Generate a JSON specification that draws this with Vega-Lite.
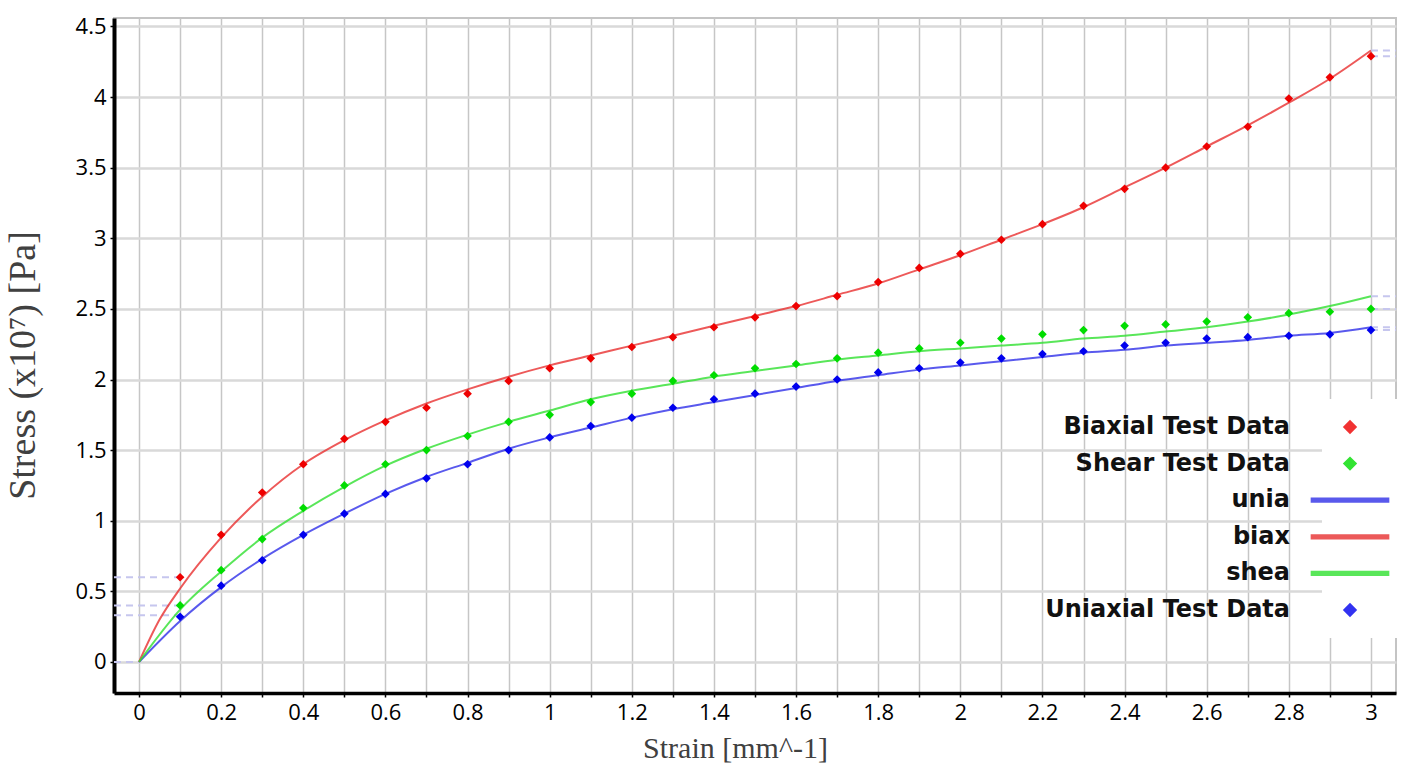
{
  "$schema": "https://vega.github.io/schema/vega-lite/v6.json",
  "width": 1282,
  "height": 675,
  "autosize": "none",
  "padding": {"left": 114, "top": 18, "right": 17, "bottom": 77},
  "background": "white",
  "config": {
    "view": {"stroke": "#c4c4c4", "strokeWidth": 2},
    "axis": {
      "domainColor": "black",
      "tickColor": "black",
      "tickSize": 4,
      "tickWidth": 1.5,
      "labelFont": "Open Sans",
      "labelFontSize": 22,
      "labelColor": "black",
      "titleFont": "Liberation Serif",
      "titleFontWeight": "normal",
      "titleColor": "#404040"
    },
    "legend": {
      "title": null,
      "orient": "none",
      "legendX": 1208,
      "legendY": 381,
      "labelAlign": "right",
      "labelOffset": -72,
      "labelFont": "DejaVu Sans",
      "labelFontSize": 24,
      "labelFontWeight": "bold",
      "labelColor": "#111111",
      "labelLimit": 400,
      "fillColor": "white",
      "padding": 16,
      "rowPadding": 12.6,
      "symbolSize": 150,
      "symbolStrokeWidth": 1.5
    }
  },
  "datasets": {
    "fits": [
      {"series": "unia", "x": 0, "y": 0}, {"series": "unia", "x": 0.1, "y": 0.29}, {"series": "unia", "x": 0.2, "y": 0.53}, {"series": "unia", "x": 0.3, "y": 0.73}, {"series": "unia", "x": 0.4, "y": 0.9}, {"series": "unia", "x": 0.5, "y": 1.05}, {"series": "unia", "x": 0.6, "y": 1.19}, {"series": "unia", "x": 0.7, "y": 1.31}, {"series": "unia", "x": 0.8, "y": 1.41}, {"series": "unia", "x": 0.9, "y": 1.51}, {"series": "unia", "x": 1.0, "y": 1.59}, {"series": "unia", "x": 1.1, "y": 1.66}, {"series": "unia", "x": 1.2, "y": 1.73}, {"series": "unia", "x": 1.3, "y": 1.79}, {"series": "unia", "x": 1.4, "y": 1.84}, {"series": "unia", "x": 1.5, "y": 1.89}, {"series": "unia", "x": 1.6, "y": 1.94}, {"series": "unia", "x": 1.7, "y": 1.99}, {"series": "unia", "x": 1.8, "y": 2.03}, {"series": "unia", "x": 1.9, "y": 2.07}, {"series": "unia", "x": 2.0, "y": 2.1}, {"series": "unia", "x": 2.1, "y": 2.13}, {"series": "unia", "x": 2.2, "y": 2.16}, {"series": "unia", "x": 2.3, "y": 2.19}, {"series": "unia", "x": 2.4, "y": 2.21}, {"series": "unia", "x": 2.5, "y": 2.24}, {"series": "unia", "x": 2.6, "y": 2.26}, {"series": "unia", "x": 2.7, "y": 2.28}, {"series": "unia", "x": 2.8, "y": 2.31}, {"series": "unia", "x": 2.9, "y": 2.33}, {"series": "unia", "x": 3.0, "y": 2.37},
      {"series": "biax", "x": 0, "y": 0}, {"series": "biax", "x": 0.05, "y": 0.3}, {"series": "biax", "x": 0.1, "y": 0.52}, {"series": "biax", "x": 0.2, "y": 0.88}, {"series": "biax", "x": 0.3, "y": 1.17}, {"series": "biax", "x": 0.4, "y": 1.4}, {"series": "biax", "x": 0.5, "y": 1.57}, {"series": "biax", "x": 0.6, "y": 1.71}, {"series": "biax", "x": 0.7, "y": 1.83}, {"series": "biax", "x": 0.8, "y": 1.93}, {"series": "biax", "x": 0.9, "y": 2.02}, {"series": "biax", "x": 1.0, "y": 2.1}, {"series": "biax", "x": 1.1, "y": 2.17}, {"series": "biax", "x": 1.2, "y": 2.24}, {"series": "biax", "x": 1.3, "y": 2.31}, {"series": "biax", "x": 1.4, "y": 2.38}, {"series": "biax", "x": 1.5, "y": 2.45}, {"series": "biax", "x": 1.6, "y": 2.52}, {"series": "biax", "x": 1.7, "y": 2.6}, {"series": "biax", "x": 1.8, "y": 2.68}, {"series": "biax", "x": 1.9, "y": 2.78}, {"series": "biax", "x": 2.0, "y": 2.88}, {"series": "biax", "x": 2.1, "y": 2.99}, {"series": "biax", "x": 2.2, "y": 3.1}, {"series": "biax", "x": 2.3, "y": 3.22}, {"series": "biax", "x": 2.4, "y": 3.36}, {"series": "biax", "x": 2.5, "y": 3.5}, {"series": "biax", "x": 2.6, "y": 3.65}, {"series": "biax", "x": 2.7, "y": 3.8}, {"series": "biax", "x": 2.8, "y": 3.96}, {"series": "biax", "x": 2.9, "y": 4.13}, {"series": "biax", "x": 3.0, "y": 4.33},
      {"series": "shea", "x": 0, "y": 0}, {"series": "shea", "x": 0.1, "y": 0.37}, {"series": "shea", "x": 0.2, "y": 0.64}, {"series": "shea", "x": 0.3, "y": 0.88}, {"series": "shea", "x": 0.4, "y": 1.07}, {"series": "shea", "x": 0.5, "y": 1.24}, {"series": "shea", "x": 0.6, "y": 1.39}, {"series": "shea", "x": 0.7, "y": 1.51}, {"series": "shea", "x": 0.8, "y": 1.61}, {"series": "shea", "x": 0.9, "y": 1.7}, {"series": "shea", "x": 1.0, "y": 1.78}, {"series": "shea", "x": 1.1, "y": 1.86}, {"series": "shea", "x": 1.2, "y": 1.92}, {"series": "shea", "x": 1.3, "y": 1.97}, {"series": "shea", "x": 1.4, "y": 2.02}, {"series": "shea", "x": 1.5, "y": 2.06}, {"series": "shea", "x": 1.6, "y": 2.1}, {"series": "shea", "x": 1.7, "y": 2.14}, {"series": "shea", "x": 1.8, "y": 2.17}, {"series": "shea", "x": 1.9, "y": 2.2}, {"series": "shea", "x": 2.0, "y": 2.22}, {"series": "shea", "x": 2.1, "y": 2.24}, {"series": "shea", "x": 2.2, "y": 2.26}, {"series": "shea", "x": 2.3, "y": 2.29}, {"series": "shea", "x": 2.4, "y": 2.31}, {"series": "shea", "x": 2.5, "y": 2.34}, {"series": "shea", "x": 2.6, "y": 2.37}, {"series": "shea", "x": 2.7, "y": 2.41}, {"series": "shea", "x": 2.8, "y": 2.46}, {"series": "shea", "x": 2.9, "y": 2.52}, {"series": "shea", "x": 3.0, "y": 2.59}
    ],
    "tests": [
      {"series": "Biaxial Test Data", "x": 0.1, "y": 0.6}, {"series": "Biaxial Test Data", "x": 0.2, "y": 0.9}, {"series": "Biaxial Test Data", "x": 0.3, "y": 1.2}, {"series": "Biaxial Test Data", "x": 0.4, "y": 1.4}, {"series": "Biaxial Test Data", "x": 0.5, "y": 1.58}, {"series": "Biaxial Test Data", "x": 0.6, "y": 1.7}, {"series": "Biaxial Test Data", "x": 0.7, "y": 1.8}, {"series": "Biaxial Test Data", "x": 0.8, "y": 1.9}, {"series": "Biaxial Test Data", "x": 0.9, "y": 1.99}, {"series": "Biaxial Test Data", "x": 1.0, "y": 2.08}, {"series": "Biaxial Test Data", "x": 1.1, "y": 2.15}, {"series": "Biaxial Test Data", "x": 1.2, "y": 2.23}, {"series": "Biaxial Test Data", "x": 1.3, "y": 2.3}, {"series": "Biaxial Test Data", "x": 1.4, "y": 2.37}, {"series": "Biaxial Test Data", "x": 1.5, "y": 2.44}, {"series": "Biaxial Test Data", "x": 1.6, "y": 2.52}, {"series": "Biaxial Test Data", "x": 1.7, "y": 2.59}, {"series": "Biaxial Test Data", "x": 1.8, "y": 2.69}, {"series": "Biaxial Test Data", "x": 1.9, "y": 2.79}, {"series": "Biaxial Test Data", "x": 2.0, "y": 2.89}, {"series": "Biaxial Test Data", "x": 2.1, "y": 2.99}, {"series": "Biaxial Test Data", "x": 2.2, "y": 3.1}, {"series": "Biaxial Test Data", "x": 2.3, "y": 3.23}, {"series": "Biaxial Test Data", "x": 2.4, "y": 3.35}, {"series": "Biaxial Test Data", "x": 2.5, "y": 3.5}, {"series": "Biaxial Test Data", "x": 2.6, "y": 3.65}, {"series": "Biaxial Test Data", "x": 2.7, "y": 3.79}, {"series": "Biaxial Test Data", "x": 2.8, "y": 3.99}, {"series": "Biaxial Test Data", "x": 2.9, "y": 4.14}, {"series": "Biaxial Test Data", "x": 3.0, "y": 4.29},
      {"series": "Shear Test Data", "x": 0.1, "y": 0.4}, {"series": "Shear Test Data", "x": 0.2, "y": 0.65}, {"series": "Shear Test Data", "x": 0.3, "y": 0.87}, {"series": "Shear Test Data", "x": 0.4, "y": 1.09}, {"series": "Shear Test Data", "x": 0.5, "y": 1.25}, {"series": "Shear Test Data", "x": 0.6, "y": 1.4}, {"series": "Shear Test Data", "x": 0.7, "y": 1.5}, {"series": "Shear Test Data", "x": 0.8, "y": 1.6}, {"series": "Shear Test Data", "x": 0.9, "y": 1.7}, {"series": "Shear Test Data", "x": 1.0, "y": 1.75}, {"series": "Shear Test Data", "x": 1.1, "y": 1.84}, {"series": "Shear Test Data", "x": 1.2, "y": 1.9}, {"series": "Shear Test Data", "x": 1.3, "y": 1.99}, {"series": "Shear Test Data", "x": 1.4, "y": 2.03}, {"series": "Shear Test Data", "x": 1.5, "y": 2.08}, {"series": "Shear Test Data", "x": 1.6, "y": 2.11}, {"series": "Shear Test Data", "x": 1.7, "y": 2.15}, {"series": "Shear Test Data", "x": 1.8, "y": 2.19}, {"series": "Shear Test Data", "x": 1.9, "y": 2.22}, {"series": "Shear Test Data", "x": 2.0, "y": 2.26}, {"series": "Shear Test Data", "x": 2.1, "y": 2.29}, {"series": "Shear Test Data", "x": 2.2, "y": 2.32}, {"series": "Shear Test Data", "x": 2.3, "y": 2.35}, {"series": "Shear Test Data", "x": 2.4, "y": 2.38}, {"series": "Shear Test Data", "x": 2.5, "y": 2.39}, {"series": "Shear Test Data", "x": 2.6, "y": 2.41}, {"series": "Shear Test Data", "x": 2.7, "y": 2.44}, {"series": "Shear Test Data", "x": 2.8, "y": 2.47}, {"series": "Shear Test Data", "x": 2.9, "y": 2.48}, {"series": "Shear Test Data", "x": 3.0, "y": 2.5},
      {"series": "Uniaxial Test Data", "x": 0.1, "y": 0.32}, {"series": "Uniaxial Test Data", "x": 0.2, "y": 0.54}, {"series": "Uniaxial Test Data", "x": 0.3, "y": 0.72}, {"series": "Uniaxial Test Data", "x": 0.4, "y": 0.9}, {"series": "Uniaxial Test Data", "x": 0.5, "y": 1.05}, {"series": "Uniaxial Test Data", "x": 0.6, "y": 1.19}, {"series": "Uniaxial Test Data", "x": 0.7, "y": 1.3}, {"series": "Uniaxial Test Data", "x": 0.8, "y": 1.4}, {"series": "Uniaxial Test Data", "x": 0.9, "y": 1.5}, {"series": "Uniaxial Test Data", "x": 1.0, "y": 1.59}, {"series": "Uniaxial Test Data", "x": 1.1, "y": 1.67}, {"series": "Uniaxial Test Data", "x": 1.2, "y": 1.73}, {"series": "Uniaxial Test Data", "x": 1.3, "y": 1.8}, {"series": "Uniaxial Test Data", "x": 1.4, "y": 1.86}, {"series": "Uniaxial Test Data", "x": 1.5, "y": 1.9}, {"series": "Uniaxial Test Data", "x": 1.6, "y": 1.95}, {"series": "Uniaxial Test Data", "x": 1.7, "y": 2.0}, {"series": "Uniaxial Test Data", "x": 1.8, "y": 2.05}, {"series": "Uniaxial Test Data", "x": 1.9, "y": 2.08}, {"series": "Uniaxial Test Data", "x": 2.0, "y": 2.12}, {"series": "Uniaxial Test Data", "x": 2.1, "y": 2.15}, {"series": "Uniaxial Test Data", "x": 2.2, "y": 2.18}, {"series": "Uniaxial Test Data", "x": 2.3, "y": 2.2}, {"series": "Uniaxial Test Data", "x": 2.4, "y": 2.24}, {"series": "Uniaxial Test Data", "x": 2.5, "y": 2.26}, {"series": "Uniaxial Test Data", "x": 2.6, "y": 2.29}, {"series": "Uniaxial Test Data", "x": 2.7, "y": 2.3}, {"series": "Uniaxial Test Data", "x": 2.8, "y": 2.31}, {"series": "Uniaxial Test Data", "x": 2.9, "y": 2.32}, {"series": "Uniaxial Test Data", "x": 3.0, "y": 2.35}
    ],
    "guides": [
      {"x": -0.061, "x2": 0.1, "y": 0.6}, {"x": -0.061, "x2": 0.1, "y": 0.4}, {"x": -0.061, "x2": 0.1, "y": 0.33}, {"x": -0.061, "x2": 0, "y": 0},
      {"x": 3.0, "x2": 3.061, "y": 4.33}, {"x": 3.0, "x2": 3.061, "y": 4.29}, {"x": 3.0, "x2": 3.061, "y": 2.59}, {"x": 3.0, "x2": 3.061, "y": 2.5}, {"x": 3.0, "x2": 3.061, "y": 2.37}, {"x": 3.0, "x2": 3.061, "y": 2.35}
    ]
  },
  "encoding": {
    "x": {
      "field": "x", "type": "quantitative",
      "scale": {"domain": [-0.061, 3.061], "nice": false, "zero": false},
      "axis": {
        "title": "Strain [mm^-1]",
        "titleFontSize": 30,
        "titleX": 621,
        "values": [0, 0.1, 0.2, 0.3, 0.4, 0.5, 0.6, 0.7, 0.8, 0.9, 1, 1.1, 1.2, 1.3, 1.4, 1.5, 1.6, 1.7, 1.8, 1.9, 2, 2.1, 2.2, 2.3, 2.4, 2.5, 2.6, 2.7, 2.8, 2.9, 3],
        "labelExpr": "round(datum.value*10) % 2 == 0 ? format(datum.value, '~g') : ''",
        "domainWidth": 3.5,
        "gridColor": "#c6c6c6",
        "gridWidth": 1.5,
        "labelPadding": 5,
        "titlePadding": 10
      }
    },
    "y": {
      "field": "y", "type": "quantitative",
      "scale": {"domain": [-0.22, 4.56], "nice": false, "zero": false},
      "axis": {
        "title": "Stress (x10⁷) [Pa]",
        "titleFontSize": 38,
        "titleX": -72,
        "titleY": 347,
        "values": [0, 0.5, 1, 1.5, 2, 2.5, 3, 3.5, 4, 4.5],
        "labelExpr": "format(datum.value, '~g')",
        "domainWidth": 4,
        "gridColor": "#d9d9d9",
        "gridWidth": 2.5,
        "labelPadding": 4
      }
    }
  },
  "layer": [
    {
      "data": {"name": "guides"},
      "mark": {"type": "rule", "color": "#c6c6ee", "strokeWidth": 2, "strokeDash": [7, 5]},
      "encoding": {"x2": {"field": "x2"}}
    },
    {
      "data": {"name": "fits"},
      "mark": {"type": "line", "strokeWidth": 2, "opacity": 0.8, "interpolate": "monotone"},
      "encoding": {
        "color": {
          "field": "series", "type": "nominal",
          "scale": {
            "domain": ["Biaxial Test Data", "Shear Test Data", "unia", "biax", "shea", "Uniaxial Test Data"],
            "range": ["#ee0000", "#00dd00", "#3030e8", "#e83030", "#30e030", "#0000ee"]
          }
        }
      }
    },
    {
      "data": {"name": "tests"},
      "mark": {"type": "point", "filled": true, "size": 75, "opacity": 1},
      "encoding": {
        "color": {"field": "series", "type": "nominal"},
        "shape": {
          "field": "series", "type": "nominal",
          "scale": {
            "domain": ["Biaxial Test Data", "Shear Test Data", "unia", "biax", "shea", "Uniaxial Test Data"],
            "range": ["diamond", "diamond", "M-6.3,-0.3H6.3V0.3H-6.3Z", "M-6.3,-0.3H6.3V0.3H-6.3Z", "M-6.3,-0.3H6.3V0.3H-6.3Z", "diamond"]
          }
        }
      }
    }
  ]
}
